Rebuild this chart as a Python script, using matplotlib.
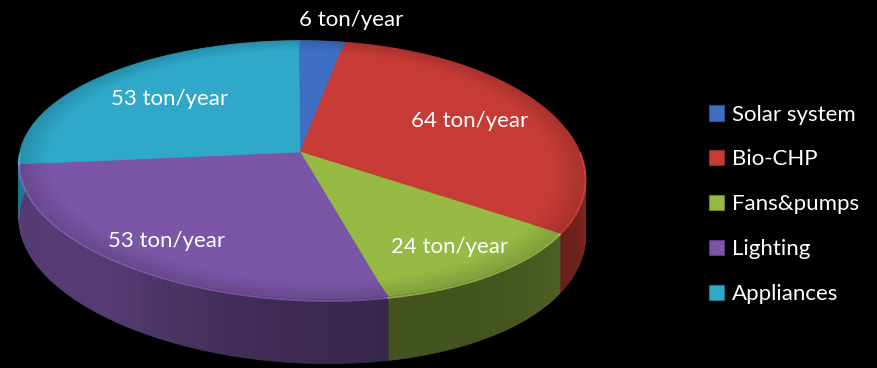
import numpy as np
import matplotlib.pyplot as plt
from matplotlib.patches import Patch
from matplotlib.colors import to_rgb

# emissions avoided per source
categories = ['Solar system', 'Bio-CHP', 'Fans&pumps', 'Lighting', 'Appliances']
values = [6, 64, 24, 53, 53]
unit = 'ton/year'
colors = ['#3F6FC2', '#C63B35', '#97BA45', '#7B55A6', '#2FA8C9']

# 3-D pie geometry (pixel space)
cx, cy = 300, 152
R, B = 280, 127
k = 0.14        # perspective
shear = 28
depth = 55


def project(r, theta, drop=0.0):
    s, c = r * np.sin(theta), r * np.cos(theta)
    d = 1 + k * c
    x = cx + R * s / d + shear * (c ** 2 - c) / 2
    y = cy - B * c / d + drop / d
    return x, y


def shade(col, f):
    return tuple(min(1, v * f) for v in to_rgb(col))


fig = plt.figure(figsize=(8.78, 3.68), dpi=100, facecolor='black')
ax = fig.add_axes([0, 0, 1, 1])
ax.set_facecolor('black')
ax.set_xlim(0, 878)
ax.set_ylim(368, 0)
ax.axis('off')

total = float(sum(values))
bounds = np.concatenate([[0], np.cumsum(values)]) / total * 2 * np.pi

# side walls, drawn as thin strips so the shading can follow the angle
for i in range(len(values)):
    t = np.linspace(bounds[i], bounds[i + 1], 80)
    for a, b in zip(t[:-1], t[1:]):
        mid = np.degrees((a + b) / 2)
        f = min(0.45 + 0.2 * ((mid - 160) / 55) ** 2, 0.7)
        x1, y1 = project(1, np.array([a, b]))
        x2, y2 = project(1, np.array([b, a]), depth)
        ax.fill(np.r_[x1, x2], np.r_[y1, y2], color=shade(colors[i], f),
                lw=0.6, zorder=1)

# top faces, with a slightly darker rounded rim
rims = np.linspace(1.0, 0.9, 8)
for i in range(len(values)):
    t = np.linspace(bounds[i], bounds[i + 1], 120)
    for j, r in enumerate(rims):
        f = 0.86 + 0.14 * j / (len(rims) - 1)
        x, y = project(r, t)
        ax.fill(np.r_[cx, x], np.r_[cy, y], color=shade(colors[i], f), lw=0, zorder=2 + j * 0.01)
    x, y = project(0.9, t)
    ax.fill(np.r_[cx, x], np.r_[cy, y], color=colors[i], ec=colors[i], lw=0.5, zorder=2.5)
    # highlight where the top meets the wall
    front = t[(t > np.pi / 2) & (t < 1.5 * np.pi)]
    if len(front):
        xf, yf = project(1, front, 1)
        ax.plot(xf, yf, color=shade(colors[i], 1.3), lw=1.4, alpha=0.55, zorder=3)

# value labels
for i, v in enumerate(values):
    mid = (bounds[i] + bounds[i + 1]) / 2
    if v / total < 0.05:
        x, y = project(1.22, mid)
        x += 20
    else:
        x, y = project(0.72 - 0.1 * np.cos(mid), mid)
    ax.text(x, y, f'{v} {unit}', color='white', fontsize=16, family='Lato',
            ha='center', va='center', zorder=5)

handles = [Patch(facecolor=c, edgecolor=shade(c, 0.7), lw=0.8) for c in colors]
leg = ax.legend(handles, categories, loc='upper left', bbox_to_anchor=(0.807, 0.716),
                frameon=False, handlelength=0.7, handleheight=0.7, handletextpad=0.35,
                labelspacing=1.12, borderpad=0, borderaxespad=0,
                prop={'family': 'Lato', 'size': 16})
for txt in leg.get_texts():
    txt.set_color('white')

fig.savefig('out.png', dpi=100, facecolor='black')
